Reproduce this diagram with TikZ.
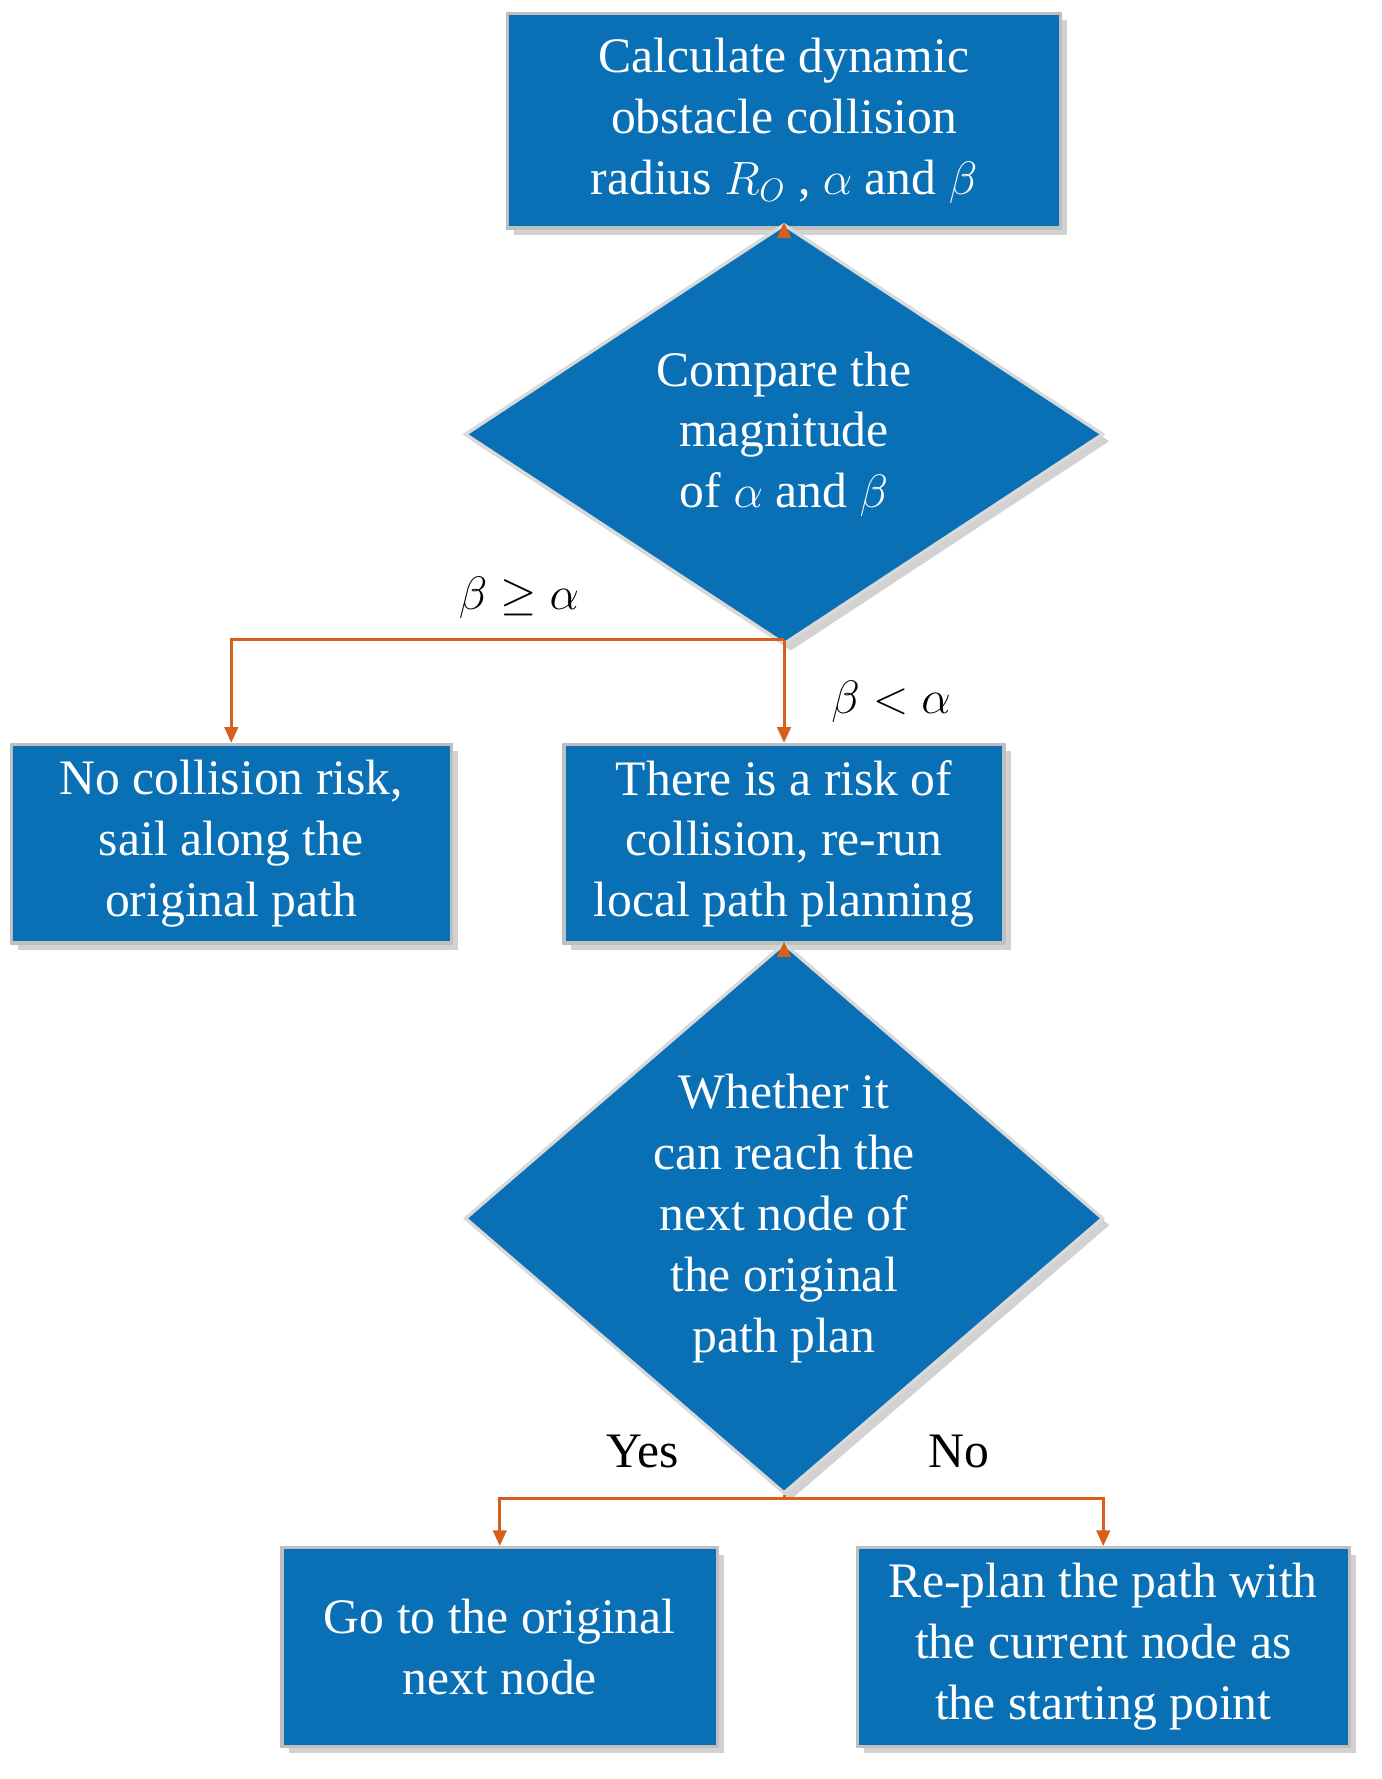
\documentclass[tikz,border=0pt]{standalone}
\usepackage{fontspec}
\setmainfont{Liberation Serif}
\usetikzlibrary{shapes,arrows.meta,positioning,shadows}
\definecolor{boxblue}{HTML}{0A70B6}
\definecolor{linkorange}{HTML}{D85E1C}
\tikzset{
  stage/.style={draw=black!25, line width=1.5pt, fill=boxblue, text=white, align=center,
    font=\fontsize{22}{27}\selectfont, drop shadow={shadow xshift=3pt, shadow yshift=-3pt, fill=black!35}},
  decide/.style={stage, diamond, inner sep=0pt, draw=black!15},
  link/.style={draw=linkorange, line width=1.3pt, -{Triangle[length=7pt,width=6pt]}},
  cond/.style={font=\fontsize{22}{27}\selectfont}
}
\begin{document}
\begin{tikzpicture}[x=0.5pt,y=-0.5pt]
    \useasboundingbox (0,0) rectangle (1225,1577);
    
    % boxes
    \node [stage, minimum width=245pt, minimum height=95pt] (calc) at (695,107)
      {Calculate dynamic\\obstacle collision\\radius $R_O$ , $\alpha$ and $\beta$};
    \node [decide, minimum width=283pt, minimum height=122pt] (cmp) at (695,385)
      {Compare the\\magnitude\\of $\alpha$ and $\beta$};
    \node [stage, minimum width=195pt, minimum height=88pt] (safe) at (205,748)
      {No collision risk,\\sail along the\\original path};
    \node [stage, minimum width=195pt, minimum height=88pt] (risk) at (695,748)
      {There is a risk of\\collision, re-run\\local path planning};
    \node [decide, minimum width=283pt, minimum height=200pt] (reach) at (695,1080)
      {Whether it\\can reach the\\next node of\\the original\\path plan};
    \node [stage, minimum width=193pt, minimum height=88pt] (goon) at (443,1460)
      {Go to the original\\next node};
    \node [stage, minimum width=218pt, minimum height=88pt] (replan) at (978,1460)
      {Re-plan the path with\\the current node as\\the starting point};
    
    % junctions
    \coordinate (split1) at (695,567);
    \coordinate (split2) at (695,1328);
    
    % connectors
    \draw [link] (calc) -- (cmp);
    \draw [link, -] (cmp) -- (split1);
    \draw [link] (split1) -| (safe);
    \draw [link] (split1) -- (risk);
    \draw [link] (risk) -- (reach);
    \draw [link, -] (reach) -- (split2);
    \draw [link] (split2) -| (goon);
    \draw [link] (split2) -| (replan);
    
    % labels
    \node [cond] (ge) at (460,530) {$\beta\geq\alpha$};
    \node [cond] (lt) at (790,622) {$\beta<\alpha$};
    \node [cond] (yes) at (570,1287) {Yes};
    \node [cond] (no) at (850,1287) {No};
\end{tikzpicture}
\end{document}
